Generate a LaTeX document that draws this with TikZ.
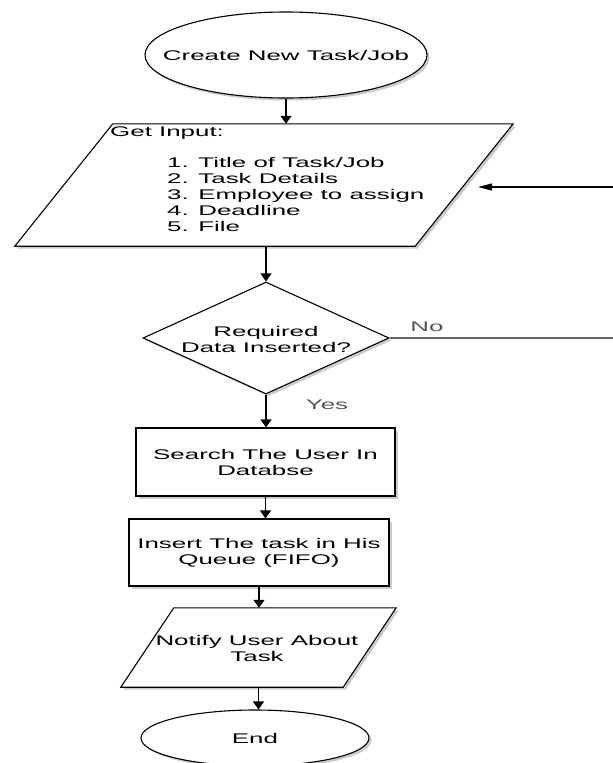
\documentclass[tikz,border=0pt]{standalone}
\usepackage{fontspec}
\setmainfont[FakeStretch=1.85]{Liberation Sans}
\usetikzlibrary{shapes.geometric,arrows.meta,shadows}
\definecolor{lblgray}{HTML}{555555}
\definecolor{linegray}{HTML}{666666}
\begin{document}
\begin{tikzpicture}[x=1pt,y=-1pt,
  every node/.style={font=\fontsize{14}{16}\selectfont},
  shapeline/.style={draw=black, line width=1.1pt, fill=white,
    drop shadow={shadow xshift=2.5pt,shadow yshift=-2.5pt,opacity=0.4,fill=gray}},
  termshape/.style={shapeline, ellipse, inner sep=0pt},
  iobody/.style={rectangle, inner sep=0pt},
  procbox/.style={shapeline, rectangle, align=center, inner sep=0pt},
  decbox/.style={shapeline, diamond, inner sep=0pt},
  lab/.style={text=lblgray},
  varrow/.style={draw=black, line width=1.1pt, -{Triangle[width=11pt,length=8pt]}},
  harrow/.style={draw=black, line width=1.1pt, -{Triangle[width=7pt,length=14pt]}},
  grayline/.style={draw=linegray, line width=1.3pt}
]
\useasboundingbox (0,0) rectangle (613,763);
\clip (0,0) rectangle (613,763);
\fill[white] (0,0) rectangle (613,763);

% start
\node[termshape, minimum width=282, minimum height=86] (start) at (286,55) {};
\node (starttxt) at (start) {Create New Task/Job};

% input (parallelogram)
\node[iobody, minimum width=400, minimum height=122] (input) at (264,185) {};
\draw[shapeline] ([xshift=49pt]input.north west) -- ([xshift=49pt]input.north east)
  -- ([xshift=-49pt]input.south east) -- ([xshift=-49pt]input.south west) -- cycle;
\node[anchor=west, inner sep=0pt] (getin) at (110,133) {Get Input:};
\node[anchor=west, align=left, inner sep=0pt] (list) at (167,194)
  {1. Title of Task/Job\\2. Task Details\\3. Employee to assign\\4. Deadline\\5. File};

% decision
\node[decbox, minimum width=246, minimum height=112] (dec) at (266,338) {};
\node[align=center] (dectxt) at (266,339) {Required\\Data Inserted?};

% processes
\node[procbox, minimum width=259, minimum height=68] (search) at (265.5,462)
  {Search The User In\\Databse};
\node[procbox, minimum width=260, minimum height=67] (insert) at (259,552.5)
  {Insert The task in His\\Queue (FIFO)};

% notify (parallelogram)
\node[iobody, minimum width=222, minimum height=79] (notify) at (258.5,647.5) {};
\draw[shapeline] ([xshift=26.5pt]notify.north west) -- ([xshift=26.5pt]notify.north east)
  -- ([xshift=-26.5pt]notify.south east) -- ([xshift=-26.5pt]notify.south west) -- cycle;
\node[align=center] (notifytxt) at (257,648) {Notify User About\\Task};

% end
\node[termshape, minimum width=228, minimum height=56] (stop) at (255,738) {};
\node (stoptxt) at (stop) {End};

% connectors
\draw[varrow] (start.south) -- (start.south |- input.north);
\draw[varrow] (dec |- input.south) -- (dec.north);
\draw[varrow] (dec.south) -- (dec.south |- search.north);
\draw[varrow] (search.south) -- (search.south |- insert.north);
\draw[varrow] (insert.south) -- (insert.south |- notify.north);
\draw[varrow] (notify.south) -- (notify.south |- stop.north);

\node[lab] (yes) at (327,405) {Yes};
\node[lab] (no) at (427,327) {No};

\coordinate (c1) at (640,338);
\coordinate (c2) at (640,187);
\coordinate (back) at (478,187);
\draw[grayline] (dec.east) -- (c1);
\draw[harrow] (c1) -- (c2) -- (back);
\end{tikzpicture}
\end{document}
